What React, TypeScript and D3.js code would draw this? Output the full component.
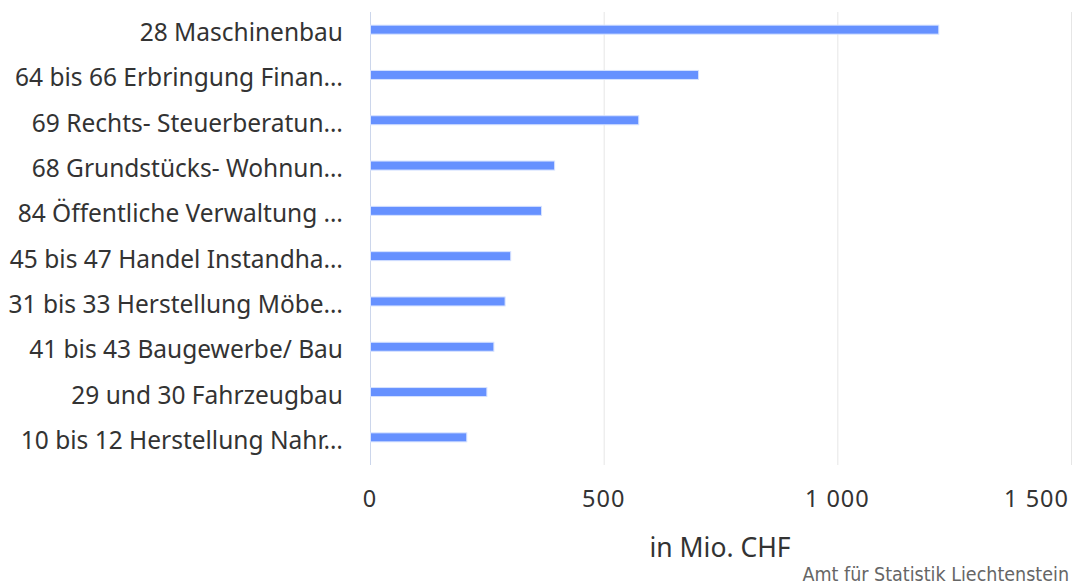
import React, { useRef, useEffect } from 'react'
import * as d3 from 'd3'

const categories = [
  '28 Maschinenbau',
  '64 bis 66 Erbringung Finan…',
  '69 Rechts- Steuerberatun…',
  '68 Grundstücks- Wohnun…',
  '84 Öffentliche Verwaltung …',
  '45 bis 47 Handel Instandha…',
  '31 bis 33 Herstellung Möbe…',
  '41 bis 43 Baugewerbe/ Bau',
  '29 und 30 Fahrzeugbau',
  '10 bis 12 Herstellung Nahr…',
]
const values = [1216, 702, 574, 394, 366, 300, 288, 264, 249, 206]
const ticks = [0, 500, 1000, 1500]
const axisTitle = 'in Mio. CHF'
const credit = 'Amt für Statistik Liechtenstein'

const width = 1080
const height = 587
const labelFont = '"Noto Sans", "Open Sans", sans-serif'

export default function App() {
  const ref = useRef<SVGSVGElement>(null)

  useEffect(() => {
    const svg = d3.select(ref.current)
    svg.selectAll('*').remove()

    const x = d3.scaleLinear().domain([0, 1500]).range([370, 1071])
    const y = d3
      .scaleBand()
      .domain(categories)
      .range([12, 465])
    const fmt = d3.formatLocale({
      decimal: ',',
      thousands: ' ',
      grouping: [3],
      currency: ['', ' CHF'],
    }).format(',d')

    // gridlines
    svg
      .append('g')
      .selectAll('line')
      .data(ticks.slice(1))
      .enter()
      .append('line')
      .attr('x1', d => x(d) + 0.5)
      .attr('x2', d => x(d) + 0.5)
      .attr('y1', 12)
      .attr('y2', 465)
      .attr('stroke', '#e6e6e6')
      .attr('stroke-width', 1)

    // zero axis line
    svg
      .append('line')
      .attr('x1', x(0) + 0.5)
      .attr('x2', x(0) + 0.5)
      .attr('y1', 12)
      .attr('y2', 465)
      .attr('stroke', '#ccd6eb')

    // bars
    svg
      .append('g')
      .selectAll('rect')
      .data(values)
      .enter()
      .append('rect')
      .attr('x', x(0) + 0.5)
      .attr('y', (d, i) => y(categories[i])! + y.bandwidth() / 2 - 9.5)
      .attr('width', d => x(d) - x(0))
      .attr('height', 9)
      .attr('fill', '#6691ff')
      .attr('stroke', '#d6e2ff')
      .attr('stroke-width', 1)

    // category labels
    svg
      .append('g')
      .selectAll('text')
      .data(categories)
      .enter()
      .append('text')
      .attr('x', 343)
      .attr('y', d => y(d)! + y.bandwidth() / 2 + 6.5)
      .attr('text-anchor', 'end')
      .style('font-family', labelFont)
      .style('font-size', '24.5px')
      .style('fill', '#333')
      .text(d => d)

    // tick labels
    svg
      .append('g')
      .selectAll('text')
      .data(ticks)
      .enter()
      .append('text')
      .attr('x', (d, i) => (i === ticks.length - 1 ? x(d) - 2 : x(d)))
      .attr('y', 507)
      .attr('text-anchor', (d, i) => (i === ticks.length - 1 ? 'end' : 'middle'))
      .style('font-family', labelFont)
      .style('font-size', '23.5px')
      .style('letter-spacing', '1px')
      .style('fill', '#333')
      .text(d => fmt(d))

    svg
      .append('text')
      .attr('x', 720)
      .attr('y', 557)
      .attr('text-anchor', 'middle')
      .style('font-family', labelFont)
      .style('font-size', '26.5px')
      .style('fill', '#333')
      .text(axisTitle)

    svg
      .append('text')
      .attr('x', 1069)
      .attr('y', 581)
      .attr('text-anchor', 'end')
      .style('font-family', '"DejaVu Sans Condensed", "DejaVu Sans", sans-serif')
      .style('font-size', '19.5px')
      .style('fill', '#666')
      .text(credit)
  }, [])

  return (
    <svg
      ref={ref}
      width={width}
      height={height}
      style={{ position: 'absolute', left: 0, top: 0, background: '#fff' }}
    />
  )
}
